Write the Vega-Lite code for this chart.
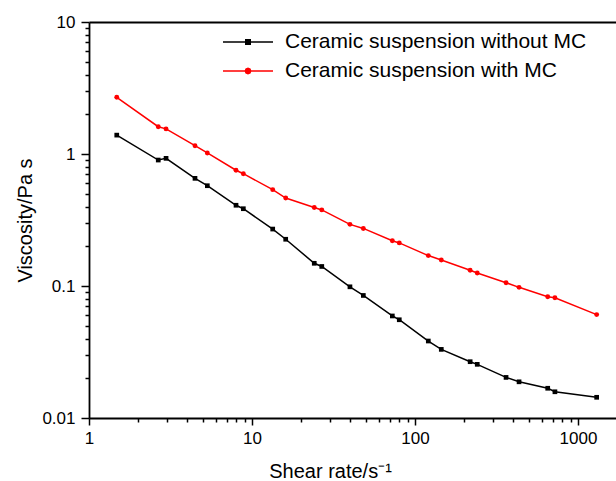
{
  "$schema": "https://vega.github.io/schema/vega-lite/v6.json",
  "width": 527,
  "height": 396,
  "autosize": "none",
  "padding": {"left": 89, "top": 22, "right": 0, "bottom": 63},
  "background": "white",
  "config": {
    "view": {"stroke": null},
    "font": "Liberation Sans",
    "axis": {
      "grid": false,
      "domainColor": "black",
      "domainWidth": 1.8,
      "tickColor": "black",
      "tickWidth": 1.5,
      "labelColor": "black",
      "labelFont": "Liberation Sans",
      "labelFontSize": 17,
      "titleFont": "Liberation Sans",
      "titleFontSize": 20,
      "titleFontWeight": "normal",
      "titleColor": "black",
      "labelOverlap": false,
      "labelFlush": false
    }
  },
  "data": {
    "values": [
      {"x": 1.48, "v": 1.39, "s": "Ceramic suspension without MC"},
      {"x": 2.66, "v": 0.9, "s": "Ceramic suspension without MC"},
      {"x": 2.97, "v": 0.927, "s": "Ceramic suspension without MC"},
      {"x": 4.47, "v": 0.654, "s": "Ceramic suspension without MC"},
      {"x": 5.32, "v": 0.575, "s": "Ceramic suspension without MC"},
      {"x": 7.98, "v": 0.409, "s": "Ceramic suspension without MC"},
      {"x": 8.85, "v": 0.385, "s": "Ceramic suspension without MC"},
      {"x": 13.4, "v": 0.27, "s": "Ceramic suspension without MC"},
      {"x": 16.1, "v": 0.226, "s": "Ceramic suspension without MC"},
      {"x": 24.1, "v": 0.1486, "s": "Ceramic suspension without MC"},
      {"x": 26.8, "v": 0.1406, "s": "Ceramic suspension without MC"},
      {"x": 39.9, "v": 0.0986, "s": "Ceramic suspension without MC"},
      {"x": 48.2, "v": 0.0848, "s": "Ceramic suspension without MC"},
      {"x": 72.6, "v": 0.0593, "s": "Ceramic suspension without MC"},
      {"x": 80.1, "v": 0.0555, "s": "Ceramic suspension without MC"},
      {"x": 120.7, "v": 0.0383, "s": "Ceramic suspension without MC"},
      {"x": 145, "v": 0.0331, "s": "Ceramic suspension without MC"},
      {"x": 218, "v": 0.0267, "s": "Ceramic suspension without MC"},
      {"x": 241, "v": 0.0255, "s": "Ceramic suspension without MC"},
      {"x": 362, "v": 0.0203, "s": "Ceramic suspension without MC"},
      {"x": 435, "v": 0.0188, "s": "Ceramic suspension without MC"},
      {"x": 652, "v": 0.0168, "s": "Ceramic suspension without MC"},
      {"x": 722, "v": 0.0158, "s": "Ceramic suspension without MC"},
      {"x": 1302, "v": 0.01435, "s": "Ceramic suspension without MC"},
      {"x": 1.48, "v": 2.69, "s": "Ceramic suspension with MC"},
      {"x": 2.66, "v": 1.61, "s": "Ceramic suspension with MC"},
      {"x": 2.97, "v": 1.55, "s": "Ceramic suspension with MC"},
      {"x": 4.47, "v": 1.156, "s": "Ceramic suspension with MC"},
      {"x": 5.32, "v": 1.018, "s": "Ceramic suspension with MC"},
      {"x": 7.98, "v": 0.753, "s": "Ceramic suspension with MC"},
      {"x": 8.85, "v": 0.709, "s": "Ceramic suspension with MC"},
      {"x": 13.4, "v": 0.537, "s": "Ceramic suspension with MC"},
      {"x": 16.1, "v": 0.464, "s": "Ceramic suspension with MC"},
      {"x": 24.1, "v": 0.393, "s": "Ceramic suspension with MC"},
      {"x": 26.8, "v": 0.377, "s": "Ceramic suspension with MC"},
      {"x": 39.9, "v": 0.293, "s": "Ceramic suspension with MC"},
      {"x": 48.2, "v": 0.273, "s": "Ceramic suspension with MC"},
      {"x": 72.6, "v": 0.22, "s": "Ceramic suspension with MC"},
      {"x": 80.1, "v": 0.212, "s": "Ceramic suspension with MC"},
      {"x": 120.7, "v": 0.17, "s": "Ceramic suspension with MC"},
      {"x": 145, "v": 0.1574, "s": "Ceramic suspension with MC"},
      {"x": 218, "v": 0.1315, "s": "Ceramic suspension with MC"},
      {"x": 241, "v": 0.1254, "s": "Ceramic suspension with MC"},
      {"x": 362, "v": 0.1059, "s": "Ceramic suspension with MC"},
      {"x": 435, "v": 0.0977, "s": "Ceramic suspension with MC"},
      {"x": 652, "v": 0.083, "s": "Ceramic suspension with MC"},
      {"x": 722, "v": 0.0815, "s": "Ceramic suspension with MC"},
      {"x": 1302, "v": 0.0607, "s": "Ceramic suspension with MC"}
    ]
  },
  "encoding": {
    "color": {
      "field": "s",
      "type": "nominal",
      "scale": {"domain": ["Ceramic suspension without MC", "Ceramic suspension with MC"], "range": ["black", "#ff0000"]},
      "legend": {
        "orient": "none",
        "legendX": 133,
        "legendY": 10,
        "title": null,
        "padding": 0,
        "symbolSize": 2500,
        "clipHeight": 20,
        "rowPadding": 8,
        "labelOffset": 11,
        "labelFontSize": 21,
        "labelFont": "Liberation Sans",
        "labelColor": "black",
        "labelLimit": 400,
        "symbolStrokeWidth": 1.5,
        "symbolType": "M-1,0H1M-0.09,-0.09H0.09V0.09H-0.09Z",
        "encoding": {
          "symbols": {
            "shape": {"condition": {"test": "datum.value === 'Ceramic suspension with MC'", "value": "M-1,0H1M0.11,0L0.078,0.078L0,0.11L-0.078,0.078L-0.11,0L-0.078,-0.078L0,-0.11L0.078,-0.078Z"}, "value": "M-1,0H1M-0.09,-0.09H0.09V0.09H-0.09Z"},
            "fill": {"condition": {"test": "datum.value === 'Ceramic suspension with MC'", "value": "#ff0000"}, "value": "black"},
            "stroke": {"condition": {"test": "datum.value === 'Ceramic suspension with MC'", "value": "#ff0000"}, "value": "black"},
            "strokeWidth": {"value": 1.5},
            "opacity": {"value": 1}
          }
        }
      }
    }
  },
  "layer": [
    {
      "mark": {"type": "line", "strokeWidth": 1.5},
      "encoding": {
        "x": {
          "field": "x",
          "type": "quantitative",
          "scale": {"type": "log", "domain": [1, 1711], "nice": false},
          "axis": {
            "orient": "bottom",
            "title": "Shear rate/s⁻¹",
            "values": [1, 2, 3, 4, 5, 6, 7, 8, 9, 10, 20, 30, 40, 50, 60, 70, 80, 90, 100, 200, 300, 400, 500, 600, 700, 800, 900, 1000],
            "format": "~g",
            "labelExpr": "indexof([1, 10, 100, 1000], datum.value) >= 0 ? datum.label : ''",
            "tickSize": 7,
            "labelPadding": 5,
            "titleX": 241,
            "titleY": 59,
            "titleBaseline": "alphabetic",
            "encoding": {
              "ticks": {
                "y2": {"condition": {"test": "indexof([1, 10, 100, 1000], datum.value) >= 0", "value": 7}, "value": 4}
              }
            }
          }
        },
        "y": {
          "field": "v",
          "type": "quantitative",
          "scale": {"type": "log", "domain": [0.01, 10], "nice": false},
          "axis": {
            "orient": "left",
            "title": "Viscosity/Pa s",
            "values": [0.01, 0.02, 0.03, 0.04, 0.05, 0.06, 0.07, 0.08, 0.09, 0.1, 0.2, 0.3, 0.4, 0.5, 0.6, 0.7, 0.8, 0.9, 1, 2, 3, 4, 5, 6, 7, 8, 9, 10],
            "format": "~g",
            "labelExpr": "indexof([0.01, 0.1, 1, 10], datum.value) >= 0 ? datum.label : ''",
            "tickSize": 8,
            "labelPadding": 6,
            "titlePadding": 6,
            "encoding": {
              "ticks": {
                "x2": {"condition": {"test": "indexof([0.01, 0.1, 1, 10], datum.value) >= 0", "value": -8}, "value": -4}
              }
            }
          }
        }
      }
    },
    {
      "transform": [{"filter": "datum.s === 'Ceramic suspension without MC'"}],
      "mark": {"type": "point", "filled": true, "opacity": 1, "size": 22, "shape": "square"},
      "encoding": {
        "x": {
          "field": "x",
          "type": "quantitative",
          "scale": {"type": "log", "domain": [1, 1711], "nice": false},
          "axis": null
        },
        "y": {
          "field": "v",
          "type": "quantitative",
          "scale": {"type": "log", "domain": [0.01, 10], "nice": false},
          "axis": null
        }
      }
    },
    {
      "transform": [{"filter": "datum.s === 'Ceramic suspension with MC'"}],
      "mark": {"type": "point", "filled": true, "opacity": 1, "size": 24, "shape": "circle"},
      "encoding": {
        "x": {
          "field": "x",
          "type": "quantitative",
          "scale": {"type": "log", "domain": [1, 1711], "nice": false},
          "axis": {"orient": "top", "ticks": false, "labels": false, "title": null, "domainWidth": 2}
        },
        "y": {
          "field": "v",
          "type": "quantitative",
          "scale": {"type": "log", "domain": [0.01, 10], "nice": false},
          "axis": null
        }
      }
    }
  ],
  "resolve": {"axis": {"x": "independent", "y": "independent"}}
}
